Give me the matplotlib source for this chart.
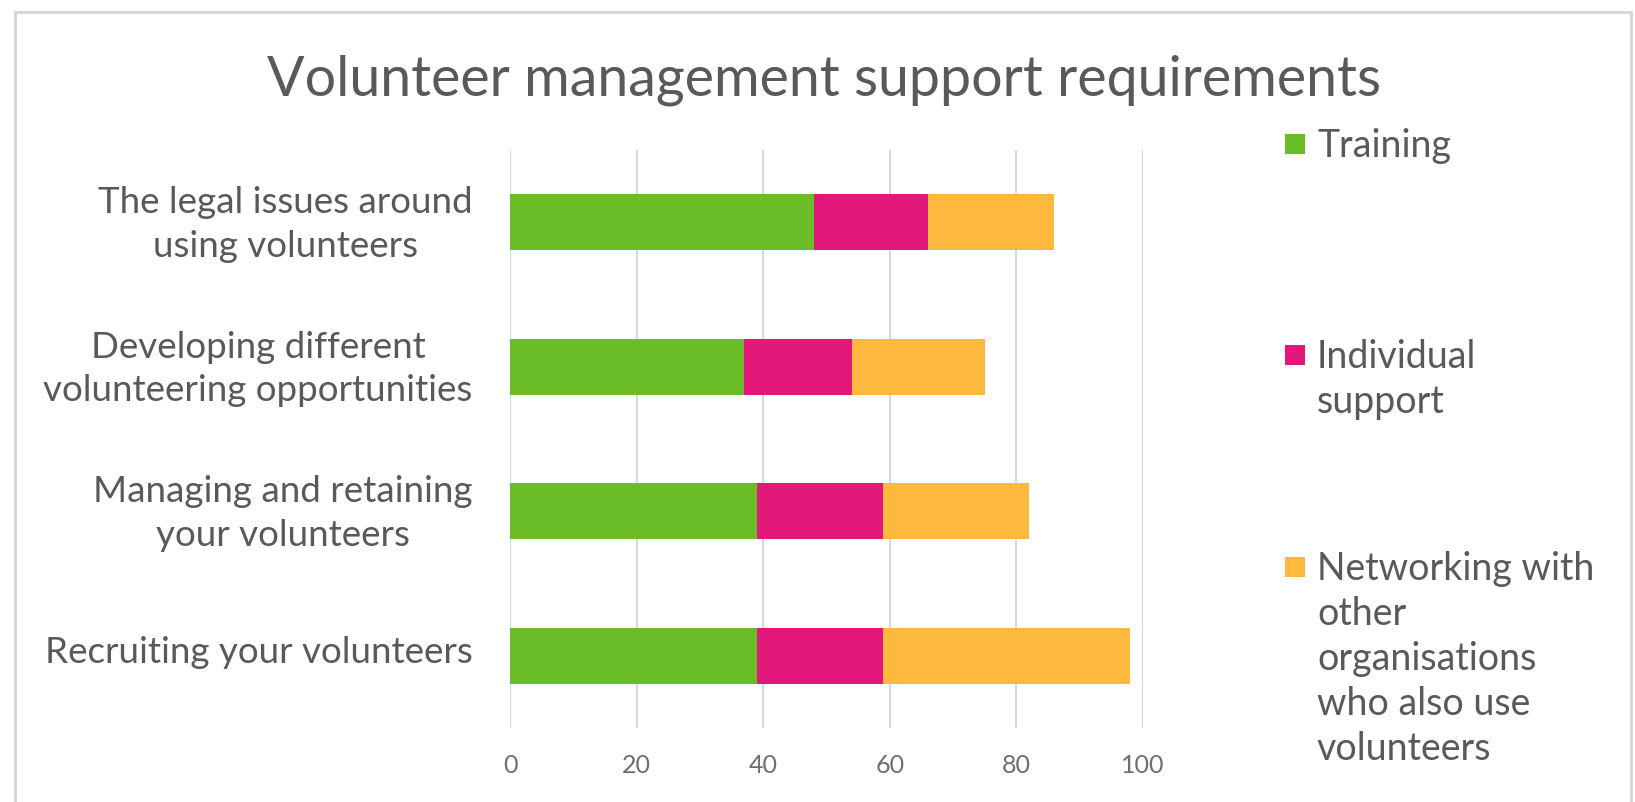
import matplotlib.pyplot as plt
import numpy as np
from matplotlib.patches import Rectangle

plt.rcParams['font.family'] = ['Lato', 'DejaVu Sans']

# Survey results (number of respondents per support type)
categories = [
    'The legal issues around\nusing volunteers',
    'Developing different\nvolunteering opportunities',
    'Managing and retaining\nyour volunteers',
    'Recruiting your volunteers',
]
series_names = [
    'Training',
    'Individual\nsupport',
    'Networking with\nother\norganisations\nwho also use\nvolunteers',
]
training = [48, 37, 39, 39]
individual = [18, 17, 20, 20]
networking = [20, 21, 23, 39]
xticks = [0, 20, 40, 60, 80, 100]

colors = ['#6BBD28', '#E2177A', '#FDB93E']
text_color = '#595959'
grid_color = '#D9D9D9'

W, H = 1635, 802
fig = plt.figure(figsize=(W / 100, H / 100), dpi=100)
fig.patch.set_facecolor('white')

# outer chart frame
fig.patches.append(Rectangle((15 / W, -0.05), (1631 - 15) / W, 1.05 - 12 / H,
                             transform=fig.transFigure, facecolor='none',
                             edgecolor='#D4D4D4', linewidth=2))

ax = fig.add_axes([510 / W, (H - 728) / H, 633 / W, 578 / H])

y = np.arange(len(categories))
left = np.zeros(len(categories))
for vals, col in zip([training, individual, networking], colors):
    ax.barh(y, vals, left=left, height=0.39, color=col, zorder=3)
    left += np.array(vals)

ax.set_xlim(0, 100)
ax.set_ylim(len(categories) - 0.5, -0.5)
ax.set_xticks(xticks)
ax.set_xticklabels([str(t) for t in xticks], fontsize=18, color='#6E6E6E')
# ticks sit a touch above bar centres so the label text (not its descenders) lines up
ax.set_yticks(y - 0.04)
ax.set_yticklabels(categories, fontsize=26.5, color=text_color,
                   linespacing=1.38)
for lab in ax.get_yticklabels():
    lab.set_multialignment('center')
ax.tick_params(axis='y', length=0, pad=27)
ax.tick_params(axis='x', length=0, pad=19)

ax.grid(axis='x', color=grid_color, linewidth=1.5, zorder=0)
for s in ax.spines.values():
    s.set_visible(False)

fig.text(824 / W, 1 - 95 / H, 'Volunteer management support requirements',
         ha='center', va='baseline', fontsize=40, color=text_color)

# legend on the right, one block per series (square centred on first line)
legend_centers = [144, 355, 567]
for name, col, cy in zip(series_names, colors, legend_centers):
    fig.patches.append(Rectangle((1285 / W, 1 - (cy + 10) / H), 20 / W, 20 / H,
                                 transform=fig.transFigure, facecolor=col,
                                 edgecolor='none'))
    fig.text(1317 / W, 1 - (cy - 16) / H, name, ha='left', va='top',
             fontsize=27, color=text_color, linespacing=1.31)

fig.savefig('out.png', dpi=100, facecolor='white')
